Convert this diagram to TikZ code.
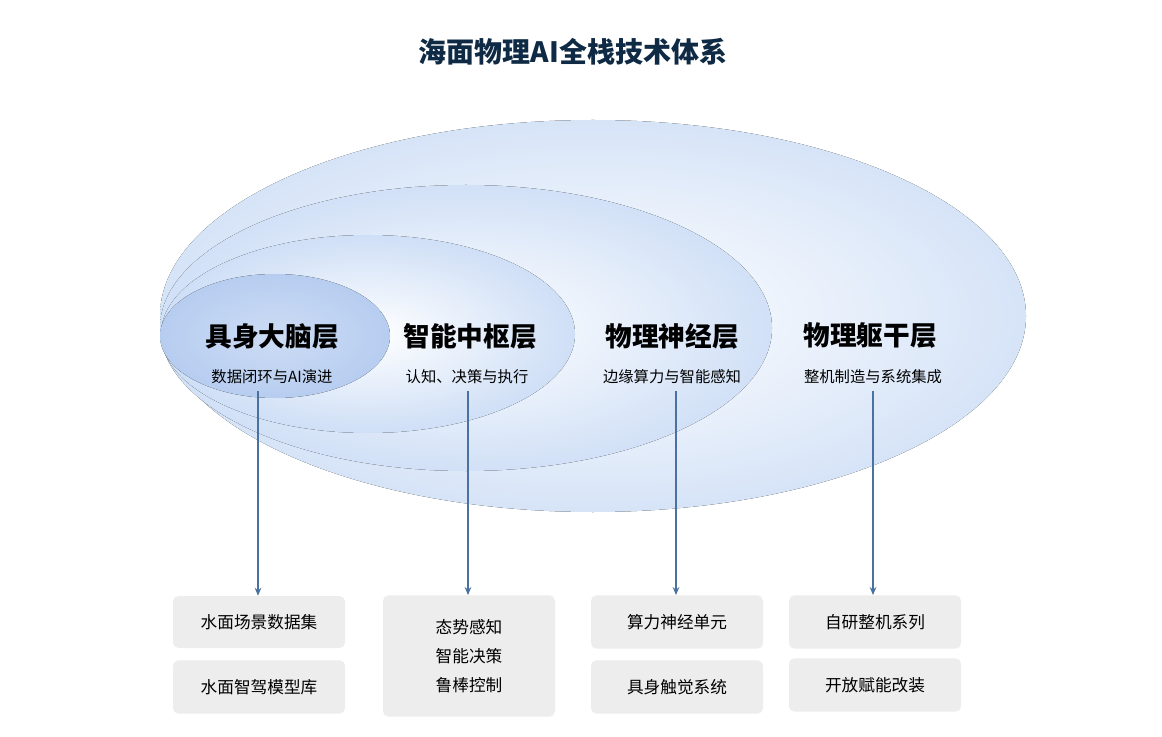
\documentclass[tikz,border=0pt]{standalone}
\usepackage{fontspec}
\setmainfont{Noto Sans CJK SC}
\usetikzlibrary{arrows.meta, positioning}
\definecolor{navy}{HTML}{0F2A44}
\definecolor{linkblue}{HTML}{4A72A0}
\definecolor{boxgray}{HTML}{EDEDED}
\definecolor{haze}{HTML}{CFDFF6}
\definecolor{core}{HTML}{B7CDF0}
\tikzset{
  layer/.style={shading=radial, inner color=white, outer color=haze!#1, draw=none},
  head/.style={font=\bfseries\fontsize{20}{24}\selectfont, text=black},
  sub/.style={font=\fontsize{11.5}{14}\selectfont, text=black},
  item/.style={fill=boxgray, rounded corners=4pt, font=\fontsize{12.5}{22}\selectfont, align=center, minimum width=129pt, inner sep=0pt},
  link/.style={linkblue, line width=0.9pt, -{Stealth[length=6pt, width=5pt]}}
}
\begin{document}
\begin{tikzpicture}[x=0.75pt,y=0.75pt,yscale=-1,xscale=1]
\useasboundingbox (0,0) rectangle (1162,737);

% title
\node[font=\bfseries\fontsize{21}{24}\selectfont, text=navy] (title) at (573,52) {海面物理AI全栈技术体系};

% nested layers
\fill[layer=85] (593,316) ellipse [x radius=433, y radius=196];
\fill[layer=95] (466,328) ellipse [x radius=306, y radius=143];
\fill[layer=100] (368,334) ellipse [x radius=207, y radius=99];
\fill[shading=radial, inner color=core!70, outer color=core] (275,336) ellipse [x radius=115, y radius=62];

% layer names
\node[head] (brain) at (272,336) {具身大脑层};
\node[sub] (brainsub) at (272,377) {数据闭环与AI演进};
\node[head] (hub) at (470,336) {智能中枢层};
\node[sub] (hubsub) at (467,377) {认知、决策与执行};
\node[head] (nerve) at (672,336) {物理神经层};
\node[sub] (nervesub) at (672,377) {边缘算力与智能感知};
\node[head] (trunk) at (870,336) {物理躯干层};
\node[sub] (trunksub) at (873,377) {整机制造与系统集成};

% boxes
\node[item, minimum height=39pt] (data) at (259,622) {水面场景数据集};
\node[item, minimum height=40pt] (model) at (259,687) {水面智驾模型库};
\node[item, minimum height=91pt] (ctrl) at (469,656) {态势感知\\智能决策\\鲁棒控制};
\node[item, minimum height=40pt] (unit) at (677,622) {算力神经单元};
\node[item, minimum height=40pt] (touch) at (677,687) {具身触觉系统};
\node[item, minimum height=40pt] (series) at (875,622) {自研整机系列};
\node[item, minimum height=40pt] (open) at (875,685) {开放赋能改装};

% links
\coordinate (s1) at (258,391);
\coordinate (s2) at (468,391);
\coordinate (s3) at (676,391);
\coordinate (s4) at (873,391);
\draw[link] (s1) -- (s1 |- data.north);
\draw[link] (s2) -- (s2 |- ctrl.north);
\draw[link] (s3) -- (s3 |- unit.north);
\draw[link] (s4) -- (s4 |- series.north);
\end{tikzpicture}
\end{document}
